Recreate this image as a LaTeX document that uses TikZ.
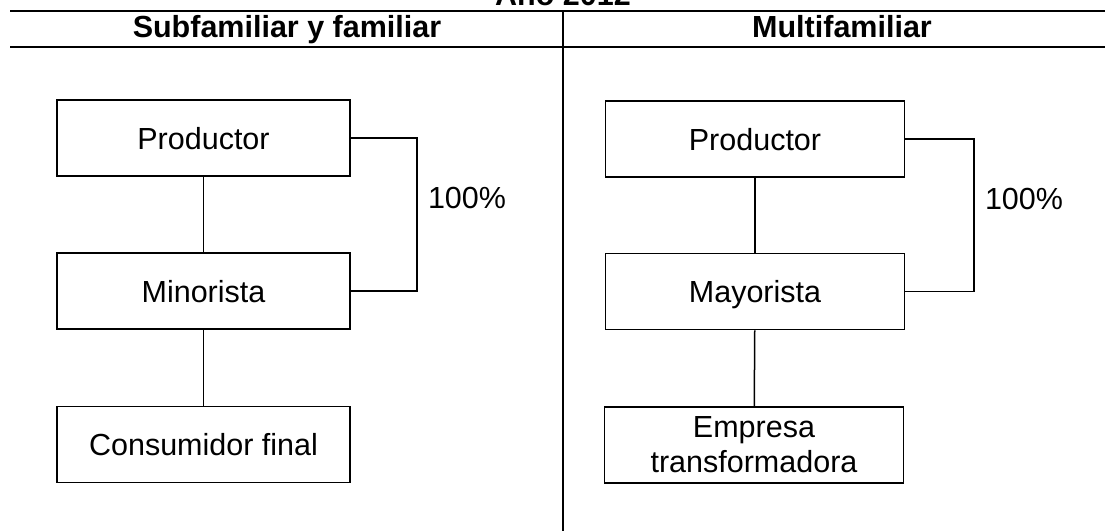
\documentclass[tikz,border=0pt]{standalone}
\usepackage{fontspec}
\setmainfont{Liberation Sans}
\begin{document}
\begin{tikzpicture}[x=1pt,y=-1pt,
  box/.style={draw,line width=1.6pt,rectangle,minimum height=76pt,inner sep=0pt,align=center,font=\fontsize{30.5}{35}\selectfont},
  one/.style={text height=22pt,text depth=0pt},
  boxl/.style={box,minimum width=293pt},
  boxr/.style={box,minimum width=299pt},
  conn/.style={line width=1.5pt},
  rule/.style={line width=1.8pt},
  hdr/.style={font=\fontsize{30.5}{34}\selectfont\bfseries,inner sep=0pt,anchor=base},
  pct/.style={font=\fontsize{30.5}{34}\selectfont,inner sep=0pt,anchor=base}]
\useasboundingbox (0,0) rectangle (1105,531);
% title (cut at the top)
\node[hdr] (title) at (563,5) {Año 2012};
% rules
\coordinate (tl) at (10,11); \coordinate (tr) at (1105,11);
\coordinate (bl) at (10,47); \coordinate (br) at (1105,47);
\coordinate (dtop) at (563,11); \coordinate (dbot) at (563,531);
\draw[rule] (tl) -- (tr);
\draw[rule] (bl) -- (br);
\draw[rule] (dtop) -- (dbot);
\node[hdr] (h1) at (287,37) {Subfamiliar y familiar};
\node[hdr] (h2) at (842,37) {Multifamiliar};
% left chain
\node[boxl,one] (p1) at (203.5,138) {Productor};
\node[boxl,one] (m1) at (203.5,291) {Minorista};
\node[boxl,one] (c1) at (203.5,444.5) {Consumidor final};
\draw[conn] (p1) -- (m1);
\draw[conn] (m1) -- (c1);
\coordinate (b1) at (417,138);
\draw[conn] (p1.east) -- (b1) |- (m1.east);
\node[pct] (x1) at (467,208) {100\%};
% right chain
\node[boxr,one] (p2) at (755,139) {Productor};
\node[boxr,one] (m2) at (755,291.5) {Mayorista};
\node[boxr] (e2) at (754,445) {Empresa\\transformadora};
\draw[conn] (p2) -- (m2);
\draw[conn] (m2) -- (e2);
\coordinate (b2) at (974,139);
\draw[conn] (p2.east) -- (b2) |- (m2.east);
\node[pct] (x2) at (1024,209) {100\%};
\end{tikzpicture}
\end{document}
